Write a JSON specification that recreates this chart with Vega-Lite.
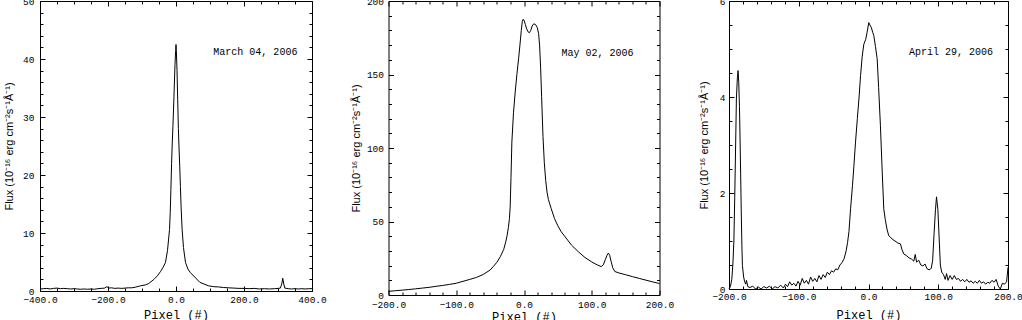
{
  "$schema": "https://vega.github.io/schema/vega-lite/v6.json",
  "background": "white",
  "padding": {"left": 2, "top": -5, "right": 0, "bottom": 0},
  "spacing": 22.5,
  "datasets": {
    "mar": [
      {"x": -400, "f": 0.35}, {"x": -390, "f": 0.4}, {"x": -380, "f": 0.45}, {"x": -370, "f": 0.35}, {"x": -360, "f": 0.45},
      {"x": -350, "f": 0.5}, {"x": -340, "f": 0.4}, {"x": -330, "f": 0.45}, {"x": -320, "f": 0.4}, {"x": -310, "f": 0.35},
      {"x": -300, "f": 0.4}, {"x": -290, "f": 0.35}, {"x": -280, "f": 0.3}, {"x": -270, "f": 0.35}, {"x": -260, "f": 0.3},
      {"x": -250, "f": 0.35}, {"x": -240, "f": 0.3}, {"x": -230, "f": 0.4}, {"x": -220, "f": 0.45}, {"x": -210, "f": 0.5},
      {"x": -203, "f": 0.75}, {"x": -198, "f": 0.5}, {"x": -190, "f": 0.55}, {"x": -180, "f": 0.45}, {"x": -170, "f": 0.5},
      {"x": -160, "f": 0.45}, {"x": -150, "f": 0.5}, {"x": -140, "f": 0.55}, {"x": -130, "f": 0.55}, {"x": -120, "f": 0.65},
      {"x": -104, "f": 0.9}, {"x": -90, "f": 1.05}, {"x": -80, "f": 1.3}, {"x": -65, "f": 2.0}, {"x": -55, "f": 2.6},
      {"x": -45, "f": 3.4}, {"x": -38, "f": 4.1}, {"x": -31, "f": 4.9}, {"x": -25, "f": 7.0}, {"x": -19, "f": 10.6},
      {"x": -17, "f": 13.5}, {"x": -15, "f": 17.5}, {"x": -13, "f": 22}, {"x": -11, "f": 25.5}, {"x": -9, "f": 28.5},
      {"x": -6, "f": 33.5}, {"x": -3, "f": 39}, {"x": -1, "f": 41.5}, {"x": 0, "f": 42.5}, {"x": 1, "f": 41.5},
      {"x": 3, "f": 38}, {"x": 5, "f": 33}, {"x": 7, "f": 28}, {"x": 9, "f": 24.5}, {"x": 11, "f": 21.5},
      {"x": 13, "f": 18}, {"x": 15, "f": 14.5}, {"x": 18, "f": 10.6}, {"x": 22, "f": 7.5}, {"x": 28, "f": 4.9},
      {"x": 35, "f": 3.8}, {"x": 42, "f": 3.2}, {"x": 52, "f": 2.6}, {"x": 70, "f": 1.5}, {"x": 95, "f": 0.9},
      {"x": 110, "f": 0.75}, {"x": 125, "f": 0.7}, {"x": 140, "f": 0.6}, {"x": 155, "f": 0.55}, {"x": 170, "f": 0.5},
      {"x": 185, "f": 0.45}, {"x": 200, "f": 0.45}, {"x": 215, "f": 0.4}, {"x": 230, "f": 0.45}, {"x": 245, "f": 0.35},
      {"x": 260, "f": 0.4}, {"x": 275, "f": 0.35}, {"x": 290, "f": 0.4}, {"x": 300, "f": 0.45}, {"x": 307, "f": 0.5},
      {"x": 311, "f": 1.2}, {"x": 314, "f": 2.2}, {"x": 317, "f": 1.2}, {"x": 320, "f": 0.5}, {"x": 330, "f": 0.4},
      {"x": 340, "f": 0.35}, {"x": 350, "f": 0.4}, {"x": 360, "f": 0.35}, {"x": 370, "f": 0.4}, {"x": 380, "f": 0.35},
      {"x": 390, "f": 0.4}, {"x": 400, "f": 0.4}
    ],
    "may": [
      {"x": -200, "f": 2.5}, {"x": -190, "f": 2.9}, {"x": -180, "f": 3.3}, {"x": -170, "f": 3.7}, {"x": -160, "f": 4.2},
      {"x": -150, "f": 4.7}, {"x": -140, "f": 5.2}, {"x": -130, "f": 5.9}, {"x": -120, "f": 6.5}, {"x": -110, "f": 7.2},
      {"x": -100, "f": 8.0}, {"x": -90, "f": 9.3}, {"x": -80, "f": 10.6}, {"x": -70, "f": 12.0}, {"x": -60, "f": 14.0},
      {"x": -50, "f": 17.0}, {"x": -45, "f": 19.5}, {"x": -40, "f": 22.3}, {"x": -35, "f": 26}, {"x": -30, "f": 31},
      {"x": -27, "f": 36}, {"x": -25, "f": 40.4}, {"x": -23, "f": 46}, {"x": -21.5, "f": 52}, {"x": -20.4, "f": 60},
      {"x": -19.2, "f": 80}, {"x": -17.9, "f": 104}, {"x": -15.5, "f": 124}, {"x": -13, "f": 138}, {"x": -10.5, "f": 150},
      {"x": -8, "f": 160.7}, {"x": -6, "f": 170}, {"x": -4, "f": 180}, {"x": -2.5, "f": 186}, {"x": -1.5, "f": 187.5},
      {"x": 0, "f": 187}, {"x": 2, "f": 184}, {"x": 4, "f": 181}, {"x": 6, "f": 179}, {"x": 8, "f": 178.4},
      {"x": 10, "f": 180}, {"x": 12, "f": 183}, {"x": 14.5, "f": 184.5}, {"x": 17, "f": 184}, {"x": 19.5, "f": 182},
      {"x": 21.5, "f": 178}, {"x": 23, "f": 170}, {"x": 24.5, "f": 155}, {"x": 26, "f": 135}, {"x": 28, "f": 108},
      {"x": 30, "f": 90}, {"x": 32, "f": 78}, {"x": 34, "f": 70}, {"x": 36, "f": 65}, {"x": 40, "f": 59},
      {"x": 45, "f": 52}, {"x": 50, "f": 47}, {"x": 55, "f": 43}, {"x": 60, "f": 40}, {"x": 70, "f": 34},
      {"x": 80, "f": 29.5}, {"x": 90, "f": 25.5}, {"x": 100, "f": 22.5}, {"x": 108, "f": 20.5}, {"x": 114, "f": 19.3},
      {"x": 117, "f": 20.5}, {"x": 120, "f": 24}, {"x": 122.5, "f": 27}, {"x": 124.5, "f": 28.5}, {"x": 126.5, "f": 27},
      {"x": 128.5, "f": 23}, {"x": 131, "f": 18.5}, {"x": 134, "f": 16}, {"x": 140, "f": 15}, {"x": 150, "f": 13.8},
      {"x": 160, "f": 12.5}, {"x": 170, "f": 11.3}, {"x": 180, "f": 10.1}, {"x": 190, "f": 8.9}, {"x": 200, "f": 7.8}
    ],
    "apr": [
      {"x": -200, "f": 0}, {"x": -198, "f": 0.05}, {"x": -196, "f": 0.2}, {"x": -194.5, "f": 0.5}, {"x": -193, "f": 1.0},
      {"x": -191.8, "f": 1.9}, {"x": -190.5, "f": 3.0}, {"x": -189.4, "f": 3.96}, {"x": -188, "f": 4.4}, {"x": -187, "f": 4.55},
      {"x": -186, "f": 4.3}, {"x": -185, "f": 3.8}, {"x": -184.3, "f": 3.27}, {"x": -183.3, "f": 2.4}, {"x": -182.3, "f": 1.5},
      {"x": -181.5, "f": 0.9}, {"x": -180.8, "f": 0.49}, {"x": -179, "f": 0.25}, {"x": -177.5, "f": 0.15}, {"x": -176, "f": 0.1},
      {"x": -175, "f": 0.18}, {"x": -173, "f": 0.05}, {"x": -170, "f": 0.03}, {"x": -166, "f": 0.06}, {"x": -162, "f": 0.0},
      {"x": -158, "f": 0.04}, {"x": -154, "f": 0.0}, {"x": -150, "f": 0.05}, {"x": -146, "f": 0.02}, {"x": -142, "f": 0.06},
      {"x": -138, "f": 0.0}, {"x": -134, "f": 0.05}, {"x": -130, "f": 0.02}, {"x": -126, "f": 0.08}, {"x": -122, "f": 0.02},
      {"x": -119, "f": 0.1}, {"x": -116, "f": 0.05}, {"x": -113, "f": 0.15}, {"x": -110, "f": 0.08}, {"x": -107, "f": 0.12},
      {"x": -104, "f": 0.06}, {"x": -101, "f": 0.16}, {"x": -98, "f": 0.08}, {"x": -95, "f": 0.22}, {"x": -92, "f": 0.12},
      {"x": -89, "f": 0.18}, {"x": -86, "f": 0.1}, {"x": -83, "f": 0.25}, {"x": -80, "f": 0.16}, {"x": -77, "f": 0.22},
      {"x": -74, "f": 0.15}, {"x": -71, "f": 0.28}, {"x": -68, "f": 0.2}, {"x": -65, "f": 0.3}, {"x": -62, "f": 0.24},
      {"x": -59, "f": 0.35}, {"x": -56, "f": 0.3}, {"x": -53, "f": 0.38}, {"x": -50, "f": 0.35}, {"x": -47, "f": 0.42},
      {"x": -44, "f": 0.4}, {"x": -41, "f": 0.5}, {"x": -38, "f": 0.55}, {"x": -35, "f": 0.63}, {"x": -32, "f": 0.8},
      {"x": -30, "f": 0.97}, {"x": -28, "f": 1.2}, {"x": -25.7, "f": 1.67}, {"x": -23, "f": 2.15}, {"x": -21, "f": 2.55},
      {"x": -18.6, "f": 3.06}, {"x": -16, "f": 3.55}, {"x": -13.5, "f": 4.0}, {"x": -11.4, "f": 4.45}, {"x": -9, "f": 4.85},
      {"x": -6.7, "f": 5.1}, {"x": -4, "f": 5.2}, {"x": -2, "f": 5.35}, {"x": 0.4, "f": 5.55}, {"x": 2, "f": 5.5},
      {"x": 4, "f": 5.45}, {"x": 6, "f": 5.35}, {"x": 7.6, "f": 5.28}, {"x": 10, "f": 5.05}, {"x": 12.4, "f": 4.8},
      {"x": 14.5, "f": 4.2}, {"x": 17.1, "f": 3.4}, {"x": 19.5, "f": 2.5}, {"x": 21.9, "f": 1.67}, {"x": 24, "f": 1.45},
      {"x": 26.5, "f": 1.25}, {"x": 29, "f": 1.11}, {"x": 31.5, "f": 1.08}, {"x": 34, "f": 1.04}, {"x": 38, "f": 1.0},
      {"x": 42, "f": 0.96}, {"x": 45.8, "f": 0.94}, {"x": 48, "f": 0.82}, {"x": 50.6, "f": 0.73}, {"x": 54, "f": 0.7},
      {"x": 58, "f": 0.65}, {"x": 62, "f": 0.62}, {"x": 65, "f": 0.58}, {"x": 67, "f": 0.72}, {"x": 69, "f": 0.56},
      {"x": 72, "f": 0.6}, {"x": 75, "f": 0.5}, {"x": 78, "f": 0.48}, {"x": 81, "f": 0.52}, {"x": 84, "f": 0.42},
      {"x": 87, "f": 0.4}, {"x": 90, "f": 0.43}, {"x": 92, "f": 0.6}, {"x": 94, "f": 1.15}, {"x": 96, "f": 1.65},
      {"x": 97.5, "f": 1.92}, {"x": 99.5, "f": 1.65}, {"x": 101.5, "f": 1.0}, {"x": 103, "f": 0.5}, {"x": 105, "f": 0.35},
      {"x": 107.5, "f": 0.3}, {"x": 110, "f": 0.2}, {"x": 112, "f": 0.32}, {"x": 114, "f": 0.18}, {"x": 117, "f": 0.28},
      {"x": 120, "f": 0.2}, {"x": 123, "f": 0.28}, {"x": 126, "f": 0.2}, {"x": 129, "f": 0.22}, {"x": 132, "f": 0.16},
      {"x": 135, "f": 0.2}, {"x": 138, "f": 0.15}, {"x": 141, "f": 0.2}, {"x": 144, "f": 0.14}, {"x": 147, "f": 0.17},
      {"x": 150, "f": 0.12}, {"x": 153, "f": 0.16}, {"x": 156, "f": 0.12}, {"x": 159, "f": 0.18}, {"x": 162, "f": 0.12},
      {"x": 165, "f": 0.15}, {"x": 168, "f": 0.1}, {"x": 171, "f": 0.14}, {"x": 174, "f": 0.12}, {"x": 177, "f": 0.18},
      {"x": 180, "f": 0.14}, {"x": 183, "f": 0.2}, {"x": 186, "f": 0.06}, {"x": 189, "f": 0.0}, {"x": 192, "f": 0.12},
      {"x": 195, "f": 0.1}, {"x": 198, "f": 0.15}, {"x": 200, "f": 0.45}
    ],
    "dates": [
      {"panel": "mar", "x": 357, "f": 41.2, "t": "March 04, 2006"},
      {"panel": "may", "x": 161.6, "f": 164.6, "t": "May 02, 2006"},
      {"panel": "apr", "x": 178.5, "f": 4.94, "t": "April 29, 2006"}
    ]
  },
  "hconcat": [
    {
      "width": 272, "height": 290,
      "resolve": {"axis": {"x": "independent", "y": "independent"}},
      "layer": [
        {"data": {"name": "mar"}, "mark": {"type": "line"},
         "encoding": {
           "x": {"field": "x", "type": "quantitative", "scale": {"domain": [-400, 400], "nice": false, "zero": false},
                 "axis": {"orient": "bottom", "values": [-400, -200, 0, 200, 400], "format": ".1f", "ticks": false, "labelPadding": 3,
                          "title": "Pixel (#)", "titleFont": "Liberation Mono", "titleFontSize": 12, "titleY": 23, "titleBaseline": "middle"}},
           "y": {"field": "f", "type": "quantitative", "scale": {"domain": [0, 50], "nice": false, "zero": false},
                 "axis": {"orient": "left", "values": [0, 10, 20, 30, 40, 50], "ticks": false, "labelPadding": 6,
                          "title": "Flux (10⁻¹⁶ erg cm⁻²s⁻¹Å⁻¹)", "titleFont": "Liberation Sans", "titleFontSize": 11, "titleX": -31, "titleBaseline": "middle"}}}},
        {"data": {"name": "mar"}, "mark": {"type": "line", "opacity": 0},
         "encoding": {
           "x": {"field": "x", "type": "quantitative", "scale": {"domain": [-400, 400], "nice": false, "zero": false},
                 "axis": {"orient": "bottom", "values": [-400, -200, 0, 200, 400], "labels": false, "tickSize": -5, "title": null}},
           "y": {"field": "f", "type": "quantitative", "scale": {"domain": [0, 50], "nice": false, "zero": false},
                 "axis": {"orient": "left", "values": [0, 10, 20, 30, 40, 50], "labels": false, "tickSize": -5, "title": null}}}},
        {"data": {"name": "mar"}, "mark": {"type": "line", "opacity": 0},
         "encoding": {
           "x": {"field": "x", "type": "quantitative", "scale": {"domain": [-400, 400], "nice": false, "zero": false},
                 "axis": {"orient": "bottom", "values": [-350, -300, -250, -150, -100, -50, 50, 100, 150, 250, 300, 350], "labels": false, "tickSize": -3, "title": null}},
           "y": {"field": "f", "type": "quantitative", "scale": {"domain": [0, 50], "nice": false, "zero": false},
                 "axis": {"orient": "left", "values": [2, 4, 6, 8, 12, 14, 16, 18, 22, 24, 26, 28, 32, 34, 36, 38, 42, 44, 46, 48], "labels": false, "tickSize": -3, "title": null}}}},
        {"data": {"name": "mar"}, "mark": {"type": "line", "opacity": 0},
         "encoding": {
           "x": {"field": "x", "type": "quantitative", "scale": {"domain": [-400, 400], "nice": false, "zero": false},
                 "axis": {"orient": "top", "values": [-400, -200, 0, 200, 400], "labels": false, "tickSize": -5, "title": null}},
           "y": {"field": "f", "type": "quantitative", "scale": {"domain": [0, 50], "nice": false, "zero": false},
                 "axis": {"orient": "right", "values": [0, 10, 20, 30, 40, 50], "labels": false, "tickSize": -5, "title": null}}}},
        {"data": {"name": "mar"}, "mark": {"type": "line", "opacity": 0},
         "encoding": {
           "x": {"field": "x", "type": "quantitative", "scale": {"domain": [-400, 400], "nice": false, "zero": false},
                 "axis": {"orient": "top", "values": [-350, -300, -250, -150, -100, -50, 50, 100, 150, 250, 300, 350], "labels": false, "tickSize": -3, "title": null}},
           "y": {"field": "f", "type": "quantitative", "scale": {"domain": [0, 50], "nice": false, "zero": false},
                 "axis": {"orient": "right", "values": [2, 4, 6, 8, 12, 14, 16, 18, 22, 24, 26, 28, 32, 34, 36, 38, 42, 44, 46, 48], "labels": false, "tickSize": -3, "title": null}}}},
        {"data": {"name": "dates"}, "transform": [{"filter": "datum.panel === 'mar'"}],
         "mark": {"type": "text", "align": "right", "baseline": "middle"},
         "encoding": {
           "x": {"field": "x", "type": "quantitative", "scale": {"domain": [-400, 400], "nice": false, "zero": false}, "axis": null},
           "y": {"field": "f", "type": "quantitative", "scale": {"domain": [0, 50], "nice": false, "zero": false}, "axis": null},
           "text": {"field": "t"}}}
      ]
    },
    {
      "width": 271, "height": 294,
      "resolve": {"axis": {"x": "independent", "y": "independent"}},
      "layer": [
        {"data": {"name": "may"}, "mark": {"type": "line"},
         "encoding": {
           "x": {"field": "x", "type": "quantitative", "scale": {"domain": [-200, 200], "nice": false, "zero": false},
                 "axis": {"orient": "bottom", "values": [-200, -100, 0, 100, 200], "format": ".1f", "ticks": false, "labelPadding": 4,
                          "title": "Pixel (#)", "titleFont": "Liberation Mono", "titleFontSize": 12, "titleY": 21, "titleBaseline": "middle"}},
           "y": {"field": "f", "type": "quantitative", "scale": {"domain": [0, 200], "nice": false, "zero": false},
                 "axis": {"orient": "left", "values": [0, 50, 100, 150, 200], "ticks": false, "labelPadding": 5,
                          "title": "Flux (10⁻¹⁶ erg cm⁻²s⁻¹Å⁻¹)", "titleFont": "Liberation Sans", "titleFontSize": 11, "titleX": -32, "titleBaseline": "middle"}}}},
        {"data": {"name": "may"}, "mark": {"type": "line", "opacity": 0},
         "encoding": {
           "x": {"field": "x", "type": "quantitative", "scale": {"domain": [-200, 200], "nice": false, "zero": false},
                 "axis": {"orient": "bottom", "values": [-200, -100, 0, 100, 200], "labels": false, "tickSize": -5, "title": null}},
           "y": {"field": "f", "type": "quantitative", "scale": {"domain": [0, 200], "nice": false, "zero": false},
                 "axis": {"orient": "left", "values": [0, 50, 100, 150, 200], "labels": false, "tickSize": -5, "title": null}}}},
        {"data": {"name": "may"}, "mark": {"type": "line", "opacity": 0},
         "encoding": {
           "x": {"field": "x", "type": "quantitative", "scale": {"domain": [-200, 200], "nice": false, "zero": false},
                 "axis": {"orient": "bottom", "values": [-180, -160, -140, -120, -80, -60, -40, -20, 20, 40, 60, 80, 120, 140, 160, 180], "labels": false, "tickSize": -3, "title": null}},
           "y": {"field": "f", "type": "quantitative", "scale": {"domain": [0, 200], "nice": false, "zero": false},
                 "axis": {"orient": "left", "values": [10, 20, 30, 40, 60, 70, 80, 90, 110, 120, 130, 140, 160, 170, 180, 190], "labels": false, "tickSize": -3, "title": null}}}},
        {"data": {"name": "may"}, "mark": {"type": "line", "opacity": 0},
         "encoding": {
           "x": {"field": "x", "type": "quantitative", "scale": {"domain": [-200, 200], "nice": false, "zero": false},
                 "axis": {"orient": "top", "values": [-200, -100, 0, 100, 200], "labels": false, "tickSize": -5, "title": null}},
           "y": {"field": "f", "type": "quantitative", "scale": {"domain": [0, 200], "nice": false, "zero": false},
                 "axis": {"orient": "right", "values": [0, 50, 100, 150, 200], "labels": false, "tickSize": -5, "title": null}}}},
        {"data": {"name": "may"}, "mark": {"type": "line", "opacity": 0},
         "encoding": {
           "x": {"field": "x", "type": "quantitative", "scale": {"domain": [-200, 200], "nice": false, "zero": false},
                 "axis": {"orient": "top", "values": [-180, -160, -140, -120, -80, -60, -40, -20, 20, 40, 60, 80, 120, 140, 160, 180], "labels": false, "tickSize": -3, "title": null}},
           "y": {"field": "f", "type": "quantitative", "scale": {"domain": [0, 200], "nice": false, "zero": false},
                 "axis": {"orient": "right", "values": [10, 20, 30, 40, 60, 70, 80, 90, 110, 120, 130, 140, 160, 170, 180, 190], "labels": false, "tickSize": -3, "title": null}}}},
        {"data": {"name": "dates"}, "transform": [{"filter": "datum.panel === 'may'"}],
         "mark": {"type": "text", "align": "right", "baseline": "middle"},
         "encoding": {
           "x": {"field": "x", "type": "quantitative", "scale": {"domain": [-200, 200], "nice": false, "zero": false}, "axis": null},
           "y": {"field": "f", "type": "quantitative", "scale": {"domain": [0, 200], "nice": false, "zero": false}, "axis": null},
           "text": {"field": "t"}}}
      ]
    },
    {
      "width": 279, "height": 288,
      "resolve": {"axis": {"x": "independent", "y": "independent"}},
      "layer": [
        {"data": {"name": "apr"}, "mark": {"type": "line"},
         "encoding": {
           "x": {"field": "x", "type": "quantitative", "scale": {"domain": [-200, 200], "nice": false, "zero": false},
                 "axis": {"orient": "bottom", "values": [-200, -100, 0, 100, 200], "format": ".1f", "ticks": false, "labelPadding": 2,
                          "title": "Pixel (#)", "titleFont": "Liberation Mono", "titleFontSize": 12, "titleY": 25, "titleBaseline": "middle"}},
           "y": {"field": "f", "type": "quantitative", "scale": {"domain": [0, 6], "nice": false, "zero": false},
                 "axis": {"orient": "left", "values": [0, 2, 4, 6], "ticks": false, "labelPadding": 4,
                          "title": "Flux (10⁻¹⁶ erg cm⁻²s⁻¹Å⁻¹)", "titleFont": "Liberation Sans", "titleFontSize": 11, "titleX": -25, "titleBaseline": "middle"}}}},
        {"data": {"name": "apr"}, "mark": {"type": "line", "opacity": 0},
         "encoding": {
           "x": {"field": "x", "type": "quantitative", "scale": {"domain": [-200, 200], "nice": false, "zero": false},
                 "axis": {"orient": "bottom", "values": [-200, -100, 0, 100, 200], "labels": false, "tickSize": -5, "title": null}},
           "y": {"field": "f", "type": "quantitative", "scale": {"domain": [0, 6], "nice": false, "zero": false},
                 "axis": {"orient": "left", "values": [0, 2, 4, 6], "labels": false, "tickSize": -5, "title": null}}}},
        {"data": {"name": "apr"}, "mark": {"type": "line", "opacity": 0},
         "encoding": {
           "x": {"field": "x", "type": "quantitative", "scale": {"domain": [-200, 200], "nice": false, "zero": false},
                 "axis": {"orient": "bottom", "values": [-180, -160, -140, -120, -80, -60, -40, -20, 20, 40, 60, 80, 120, 140, 160, 180], "labels": false, "tickSize": -3, "title": null}},
           "y": {"field": "f", "type": "quantitative", "scale": {"domain": [0, 6], "nice": false, "zero": false},
                 "axis": {"orient": "left", "values": [0.5, 1, 1.5, 2.5, 3, 3.5, 4.5, 5, 5.5], "labels": false, "tickSize": -3, "title": null}}}},
        {"data": {"name": "apr"}, "mark": {"type": "line", "opacity": 0},
         "encoding": {
           "x": {"field": "x", "type": "quantitative", "scale": {"domain": [-200, 200], "nice": false, "zero": false},
                 "axis": {"orient": "top", "values": [-200, -100, 0, 100, 200], "labels": false, "tickSize": -5, "title": null}},
           "y": {"field": "f", "type": "quantitative", "scale": {"domain": [0, 6], "nice": false, "zero": false},
                 "axis": {"orient": "right", "values": [0, 2, 4, 6], "labels": false, "tickSize": -5, "title": null}}}},
        {"data": {"name": "apr"}, "mark": {"type": "line", "opacity": 0},
         "encoding": {
           "x": {"field": "x", "type": "quantitative", "scale": {"domain": [-200, 200], "nice": false, "zero": false},
                 "axis": {"orient": "top", "values": [-180, -160, -140, -120, -80, -60, -40, -20, 20, 40, 60, 80, 120, 140, 160, 180], "labels": false, "tickSize": -3, "title": null}},
           "y": {"field": "f", "type": "quantitative", "scale": {"domain": [0, 6], "nice": false, "zero": false},
                 "axis": {"orient": "right", "values": [0.5, 1, 1.5, 2.5, 3, 3.5, 4.5, 5, 5.5], "labels": false, "tickSize": -3, "title": null}}}},
        {"data": {"name": "dates"}, "transform": [{"filter": "datum.panel === 'apr'"}],
         "mark": {"type": "text", "align": "right", "baseline": "middle"},
         "encoding": {
           "x": {"field": "x", "type": "quantitative", "scale": {"domain": [-200, 200], "nice": false, "zero": false}, "axis": null},
           "y": {"field": "f", "type": "quantitative", "scale": {"domain": [0, 6], "nice": false, "zero": false}, "axis": null},
           "text": {"field": "t"}}}
      ]
    }
  ],
  "config": {
    "view": {"stroke": "black", "strokeWidth": 1},
    "axis": {"grid": false, "domain": false, "labelFont": "Liberation Mono", "labelFontSize": 9.5, "labelColor": "black",
             "tickColor": "black", "tickWidth": 1, "titleColor": "black", "titleFontWeight": "normal",
             "labelFlush": false, "labelOverlap": false, "labelBound": false},
    "line": {"color": "black", "strokeWidth": 1},
    "text": {"font": "Liberation Mono", "fontSize": 10, "color": "black"}
  }
}
